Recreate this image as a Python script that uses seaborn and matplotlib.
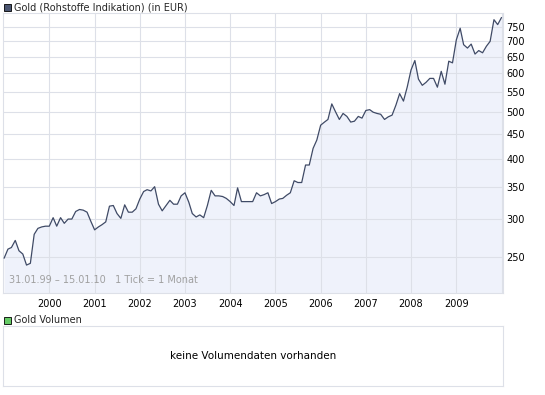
import matplotlib
matplotlib.use('Agg')
import matplotlib.pyplot as plt
from matplotlib.patches import Rectangle
from matplotlib.ticker import FixedLocator, NullLocator
import pandas as pd
import seaborn as sns

# monthly gold price in EUR, Jan 1999 .. Jan 2010
prices_1999 = [249, 260, 262, 271, 258, 254, 241, 243, 279, 287, 289, 290]
prices_2000 = [290, 302, 290, 302, 294, 300, 300, 311, 314, 313, 310, 297]
prices_2001 = [285, 289, 292, 296, 319, 320, 308, 301, 321, 310, 310, 315]
prices_2002 = [330, 342, 345, 343, 350, 322, 312, 320, 328, 322, 322, 335]
prices_2003 = [340, 325, 308, 303, 306, 302, 320, 344, 335, 335, 334, 331]
prices_2004 = [326, 320, 348, 326, 326, 326, 326, 340, 335, 337, 340, 323]
prices_2005 = [326, 330, 331, 336, 340, 360, 357, 357, 388, 388, 420, 437]
prices_2006 = [469, 476, 482, 519, 500, 482, 496, 489, 476, 478, 489, 485]
prices_2007 = [503, 505, 499, 496, 494, 482, 488, 492, 516, 545, 526, 562]
prices_2008 = [610, 638, 584, 567, 575, 586, 586, 562, 606, 570, 636, 631]
prices_2009 = [704, 744, 688, 677, 690, 658, 669, 662, 683, 699, 775, 757]
prices_2010 = [783]

prices = (prices_1999 + prices_2000 + prices_2001 + prices_2002 + prices_2003
          + prices_2004 + prices_2005 + prices_2006 + prices_2007 + prices_2008
          + prices_2009 + prices_2010)
dates = pd.date_range('1999-01-01', periods=len(prices), freq='MS')
y_ticks = [250, 300, 350, 400, 450, 500, 550, 600, 650, 700, 750]
years = list(range(2000, 2011))

df = pd.DataFrame({'date': dates, 'price': prices})

sns.set_style('white')
plt.rcParams['font.family'] = ['DejaVu Sans']

line_col = '#3f4a66'
fill_col = '#eff2fb'
grid_col = '#dde0e8'
y_min, y_max = 211, 800

fig = plt.figure(figsize=(5.45, 3.95), dpi=100)
ax = fig.add_axes([3 / 545, 1 - 293 / 395, 500 / 545, 280 / 395])

# fill under the grid so the grid lines stay visible, as in the original
ax.fill_between(df['date'], df['price'], y_min, color=fill_col, lw=0, zorder=0.2)
sns.lineplot(data=df, x='date', y='price', ax=ax, color=line_col, lw=0.9, zorder=3)

ax.set_yscale('log')
ax.set_ylim(y_min, y_max)
ax.set_xlim(pd.Timestamp('1998-12-23'), pd.Timestamp('2010-01-13'))
ax.yaxis.set_major_locator(FixedLocator(y_ticks))
ax.yaxis.set_minor_locator(NullLocator())
ax.set_yticks(y_ticks)
ax.set_yticklabels([str(v) for v in y_ticks])
ax.yaxis.tick_right()
ax.set_xticks([pd.Timestamp(f'{y}-01-01') for y in years])
ax.set_xticklabels([str(y) for y in years[:-1]] + [''])
ax.tick_params(axis='both', length=0, labelsize=7, colors='black', pad=4)
ax.tick_params(axis='y', pad=2.5)
ax.grid(True, color=grid_col, lw=0.8)
ax.set_axisbelow(True)
ax.set_xlabel('')
ax.set_ylabel('')
for s in ax.spines.values():
    s.set_color(grid_col)
    s.set_linewidth(0.8)

ax.text(0.012, 0.03, '31.01.99 \u2013 15.01.10   1 Tick = 1 Monat', transform=ax.transAxes,
        fontsize=7, color='#a0a0a0', ha='left', va='bottom', zorder=4)

# volume panel
vax = fig.add_axes([3 / 545, 1 - 386 / 395, 500 / 545, 60 / 395])
vax.set_xticks([])
vax.set_yticks([])
for s in vax.spines.values():
    s.set_color(grid_col)
    s.set_linewidth(0.8)
vax.text(0.5, 0.5, 'keine Volumendaten vorhanden', transform=vax.transAxes,
         ha='center', va='center', fontsize=7.5, color='black')

# legend squares and headers
fig.patches.append(Rectangle((4 / 545, 1 - 11 / 395), 7 / 545, 7 / 395, transform=fig.transFigure,
                             facecolor='#4a5570', edgecolor='black', lw=0.6))
fig.text(14 / 545, 1 - 7 / 395, 'Gold (Rohstoffe Indikation) (in EUR)', fontsize=7,
         ha='left', va='center')
fig.patches.append(Rectangle((4 / 545, 1 - 324 / 395), 7 / 545, 7 / 395, transform=fig.transFigure,
                             facecolor='#66cc66', edgecolor='black', lw=0.6))
fig.text(14 / 545, 1 - 320 / 395, 'Gold Volumen', fontsize=7, ha='left', va='center')

fig.savefig('out.png', dpi=100)
